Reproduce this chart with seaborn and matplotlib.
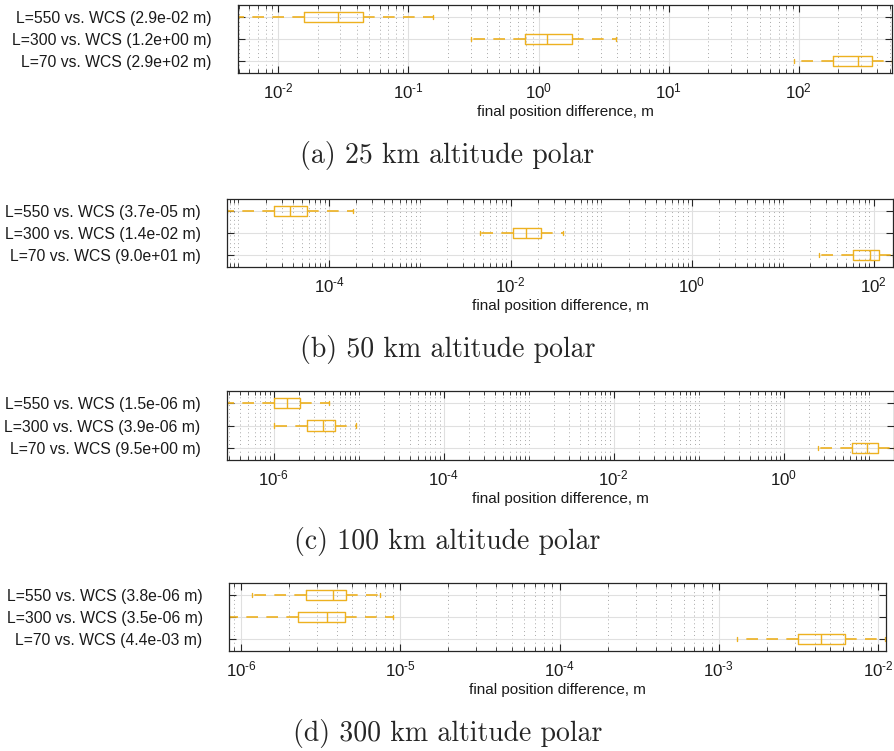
import numpy as np
import pandas as pd
import matplotlib
matplotlib.use("Agg")
import matplotlib.pyplot as plt
import seaborn as sns
from matplotlib.ticker import FixedLocator, LogLocator, FuncFormatter, NullFormatter

sns.set_style("white")
plt.rcParams["font.family"] = ["Liberation Sans", "DejaVu Sans"]
plt.rcParams["mathtext.fontset"] = "custom"
plt.rcParams["mathtext.rm"] = "Liberation Sans"
plt.rcParams["mathtext.it"] = "Liberation Sans:italic"
plt.rcParams["mathtext.bf"] = "Liberation Sans:bold"

# ---------------- data ----------------
series_labels = ["L=550 vs. WCS", "L=300 vs. WCS", "L=70 vs. WCS"]
captions = ["(a) 25 km altitude polar", "(b) 50 km altitude polar",
            "(c) 100 km altitude polar", "(d) 300 km altitude polar"]

# box stats per series: [whisker low, q1, median, q3, whisker high]  (m)
a_means = ["2.9e-02", "1.2e+00", "2.9e+02"]
a_l550 = [4.9e-3, 0.0158, 0.0288, 0.0449, 0.155]
a_l300 = [0.301, 0.78, 1.17, 1.79, 3.92]
a_l70 = [92.0, 182.0, 286.0, 366.0, 519.0]

b_means = ["3.7e-05", "1.4e-02", "9.0e+01"]
b_l550 = [7.5e-6, 2.46e-5, 3.73e-5, 5.78e-5, 1.83e-4]
b_l300 = [4.64e-3, 1.07e-2, 1.48e-2, 2.15e-2, 3.81e-2]
b_l70 = [24.8, 59.7, 92.6, 115.0, 164.0]

c_means = ["1.5e-06", "3.9e-06", "9.5e+00"]
c_l550 = [2.83e-7, 1.02e-6, 1.42e-6, 2.04e-6, 4.48e-6]
c_l300 = [1.02e-6, 2.49e-6, 3.8e-6, 5.21e-6, 9.35e-6]
c_l70 = [2.55, 6.36, 9.46, 12.8, 19.8]

d_means = ["3.8e-06", "3.5e-06", "4.4e-03"]
d_l550 = [1.175e-6, 2.54e-6, 3.77e-6, 4.54e-6, 7.46e-6]
d_l300 = [8.4e-7, 2.27e-6, 3.47e-6, 4.48e-6, 9.05e-6]
d_l70 = [1.3e-3, 3.12e-3, 4.37e-3, 6.15e-3, 1.1e-2]

xlims = [(4.9e-3, 519.0), (7.5e-6, 164.0), (2.83e-7, 19.8), (8.4e-7, 1.12e-2)]
major_ticks = [[1e-2, 1e-1, 1e0, 1e1, 1e2],
               [1e-4, 1e-2, 1e0, 1e2],
               [1e-6, 1e-4, 1e-2, 1e0],
               [1e-6, 1e-5, 1e-4, 1e-3, 1e-2]]

panels = [
    (a_means, [a_l550, a_l300, a_l70]),
    (b_means, [b_l550, b_l300, b_l70]),
    (c_means, [c_l550, c_l300, c_l70]),
    (d_means, [d_l550, d_l300, d_l70]),
]

# ---------------- layout ----------------
W, H = 895, 751
rects_px = [(238, 5, 892, 73), (227, 199, 893, 267), (227, 391, 894, 460), (229, 583, 886, 651)]
caption_y = [155, 349, 541, 734]

COL = "#EDB120"


def pow10(v, pos):
    e = int(round(np.log10(v)))
    s = str(e).replace("-", "\u2010")
    return "$10^{" + s + "}$"


fig = plt.figure(figsize=(W / 100, H / 100), dpi=100)

for i, ((means, stats), (l, t, r, b)) in enumerate(zip(panels, rects_px)):
    ax = fig.add_axes([l / W, 1 - b / H, (r - l) / W, (b - t) / H])
    rows = []
    order = []
    for lab, m, st in zip(series_labels, means, stats):
        name = f"{lab} ({m} m)"
        order.append(name)
        for v in st:
            rows.append((name, v))
    df = pd.DataFrame(rows, columns=["series", "value"])
    sns.boxplot(data=df, x="value", y="series", order=order, orient="h", ax=ax,
                log_scale=True, whis=np.inf, fill=False, color=COL,
                linecolor=COL, linewidth=1.0, width=0.45, showfliers=False,
                whiskerprops=dict(linestyle=(0, (7, 5)), linewidth=1.2), capwidths=0.2)
    ax.set_xlim(*xlims[i])
    ax.set_ylim(2.55, -0.55)
    ax.xaxis.set_major_locator(FixedLocator(major_ticks[i]))
    ax.xaxis.set_major_formatter(FuncFormatter(pow10))
    ax.xaxis.set_minor_locator(LogLocator(base=10, subs=np.arange(1, 10), numticks=100))
    ax.xaxis.set_minor_formatter(NullFormatter())
    ax.grid(which="major", axis="both", color="#e0e0e0", linewidth=0.8, linestyle="-")
    ax.grid(which="minor", axis="x", color="#a8a8a8", linewidth=0.7, linestyle=(0, (1, 3)))
    ax.set_axisbelow(True)
    ax.tick_params(which="both", direction="in", top=True, right=True, bottom=True, left=True,
                   colors="#262626")
    ax.tick_params(which="major", length=5, width=0.8)
    ax.tick_params(which="minor", length=3, width=0.6)
    ax.tick_params(axis="x", labelsize=12.2, pad=6, labelcolor="#1a1a1a")
    ax.tick_params(axis="y", labelsize=11.3, pad=19, labelcolor="#1a1a1a")
    for s in ax.spines.values():
        s.set_visible(True)
        s.set_color("#262626")
        s.set_linewidth(0.9)
    ax.set_ylabel("")
    ax.set_xlabel("final position difference, m", fontsize=11, labelpad=3, color="#1a1a1a")
    fig.text(0.5, 1 - caption_y[i] / H, captions[i], ha="center", va="center",
             fontsize=20, family="cmr10")

fig.savefig("out.png", dpi=100)
